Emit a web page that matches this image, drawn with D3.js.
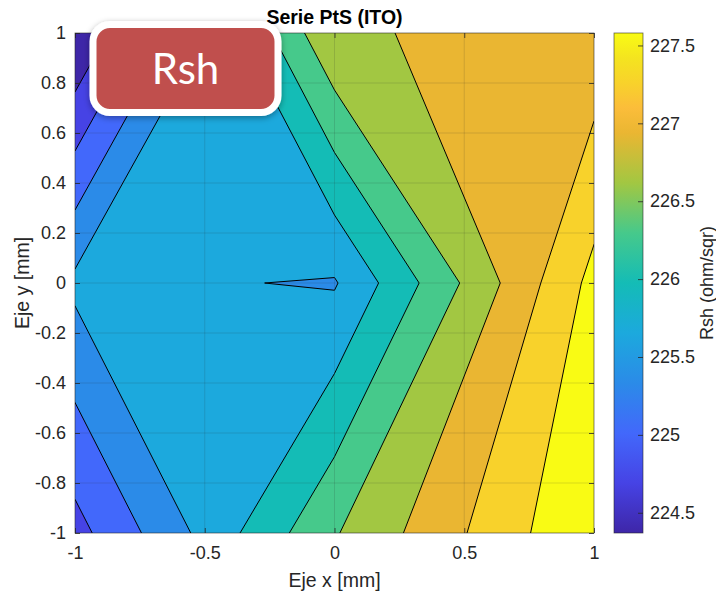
<!DOCTYPE html>
<html>
<head>
<meta charset="utf-8">
<script src="https://cdn.jsdelivr.net/npm/d3@7"></script>
<style>
    body { margin: 0; background: #fff; }
    svg { display: block; font-family: "Liberation Sans", Arial, Helvetica, sans-serif; }
</style>
</head>
<body>
<svg id="chart" width="716" height="594"></svg>
<script>
// Measurement grid (mm)
const xGrid = [-1, 0, 1];
const yGrid = [1, 0, -1];

// Rsh (ohm/sqr), one array per row, top row first
const rshTop = [224.37, 226.91, 227.03];
const rshMid = [225.73, 225.626, 227.68];
const rshBot = [224.90, 226.59, 227.90];

// Contour levels
const levels = [224.37, 224.691, 225.012, 225.333, 225.654, 225.975, 226.296, 226.617, 226.938, 227.259, 227.58];

// Ticks
const xTicks = [-1, -0.5, 0, 0.5, 1];
const yTicks = [-1, -0.8, -0.6, -0.4, -0.2, 0, 0.2, 0.4, 0.6, 0.8, 1];
const cbTicks = [224.5, 225, 225.5, 226, 226.5, 227, 227.5];

// Parula colormap stops
const parulaT = [0, 0.1, 0.2, 0.3, 0.4, 0.5, 0.6, 0.7, 0.8, 0.85, 0.9, 0.95, 1];
const parulaHex = ['#3e26a8', '#4643e5', '#4268fb', '#2b8be8', '#1ca9dd', '#14bcb6', '#46c98b',
    '#a2c742', '#eab632', '#fbbd3a', '#f8d22b', '#f4e41f', '#f9fb14'];

const svg = d3.select('#chart');
const textColor = '#262626';

// Scales
const x = d3.scaleLinear().domain([-1, 1]).range([75, 594]);
const y = d3.scaleLinear().domain([-1, 1]).range([533, 33]);
const gx = d3.scaleLinear().domain([0.5, 2.5]).range([xGrid[0], xGrid[2]]);
const gy = d3.scaleLinear().domain([0.5, 2.5]).range([yGrid[0], yGrid[2]]);
const parula = d3.scaleLinear().domain(parulaT).range(parulaHex).interpolate(d3.interpolateRgb);
const cNorm = d3.scaleLinear().domain([levels[0], levels[levels.length - 1]]).range([0, 1]).clamp(true);
const color = v => parula(cNorm(v));

const defs = svg.append('defs');
defs.append('clipPath').attr('id', 'plot-clip')
    .append('rect')
    .attr('x', x(-1)).attr('y', y(1))
    .attr('width', x(1) - x(-1)).attr('height', y(-1) - y(1));

// Filled contours (painted from highest level down)
const values = [...rshTop, ...rshMid, ...rshBot].map(v => -v);
const contours = d3.contours().size([3, 3]);
const path = d3.geoPath(d3.geoTransform({
    point(px, py) { this.stream.point(x(gx(px)), y(gy(py))); }
}));

const plot = svg.append('g').attr('clip-path', 'url(#plot-clip)');
plot.append('rect')
    .attr('x', x(-1)).attr('y', y(1))
    .attr('width', x(1) - x(-1)).attr('height', y(-1) - y(1))
    .attr('fill', color(levels[levels.length - 1]));

for (let k = levels.length - 1; k >= 1; k--) {
    plot.append('path')
        .datum(contours.contour(values, -levels[k]))
        .attr('d', path)
        .attr('fill', color(levels[k - 1]))
        .attr('stroke', '#000')
        .attr('stroke-width', 1)
        .attr('stroke-linejoin', 'round');
}

// Grid
const grid = svg.append('g').attr('stroke', textColor).attr('stroke-opacity', 0.15).attr('stroke-width', 1);
grid.selectAll('.gx').data(xTicks.slice(1, -1)).enter().append('line')
    .attr('x1', d => x(d)).attr('x2', d => x(d)).attr('y1', y(1)).attr('y2', y(-1));
grid.selectAll('.gy').data(yTicks.slice(1, -1)).enter().append('line')
    .attr('y1', d => y(d)).attr('y2', d => y(d)).attr('x1', x(-1)).attr('x2', x(1));

// Axes
const fmt = d => String(d);
function styleAxis(g) {
    g.select('.domain').remove();
    g.selectAll('.tick line').attr('stroke', textColor).attr('stroke-width', 0.8);
    g.selectAll('.tick text').attr('fill', textColor).attr('font-size', 18)
        .attr('font-family', '"Liberation Sans", Arial, sans-serif');
}
svg.append('g').attr('transform', `translate(0,${y(-1)})`)
    .call(d3.axisBottom(x).tickValues(xTicks).tickFormat(fmt).tickSize(-5).tickPadding(13))
    .call(styleAxis);
svg.append('g').attr('transform', `translate(0,${y(1)})`)
    .call(d3.axisTop(x).tickValues(xTicks).tickFormat('').tickSize(-5))
    .call(styleAxis);
svg.append('g').attr('transform', `translate(${x(-1)},0)`)
    .call(d3.axisLeft(y).tickValues(yTicks).tickFormat(fmt).tickSize(-5).tickPadding(9))
    .call(styleAxis);
svg.append('g').attr('transform', `translate(${x(1)},0)`)
    .call(d3.axisRight(y).tickValues(yTicks).tickFormat('').tickSize(-5))
    .call(styleAxis);

svg.append('rect')
    .attr('x', x(-1)).attr('y', y(1))
    .attr('width', x(1) - x(-1)).attr('height', y(-1) - y(1))
    .attr('fill', 'none').attr('stroke', textColor).attr('stroke-opacity', 0.7).attr('stroke-width', 0.8);

// Titles
svg.append('text')
    .attr('x', (x(-1) + x(1)) / 2).attr('y', 24)
    .attr('text-anchor', 'middle').attr('font-weight', 'bold').attr('font-size', 19.5)
    .attr('fill', '#000')
    .text('Serie PtS (ITO)');
svg.append('text')
    .attr('x', (x(-1) + x(1)) / 2).attr('y', 587)
    .attr('text-anchor', 'middle').attr('font-size', 19.5).attr('fill', textColor)
    .text('Eje x [mm]');
svg.append('text')
    .attr('transform', `translate(29,${(y(-1) + y(1)) / 2}) rotate(-90)`)
    .attr('text-anchor', 'middle').attr('font-size', 19.5).attr('fill', textColor)
    .text('Eje y [mm]');

// Colorbar
const cbX = 614, cbW = 29;
const cbY = d3.scaleLinear().domain([levels[0], levels[levels.length - 1]]).range([533, 33]);
const grad = defs.append('linearGradient').attr('id', 'cb-grad')
    .attr('x1', 0).attr('y1', 1).attr('x2', 0).attr('y2', 0);
grad.selectAll('stop').data(parulaT).enter().append('stop')
    .attr('offset', d => d).attr('stop-color', (d, i) => parulaHex[i]);
svg.append('rect')
    .attr('x', cbX).attr('y', cbY.range()[1])
    .attr('width', cbW).attr('height', cbY.range()[0] - cbY.range()[1])
    .attr('fill', 'url(#cb-grad)');
svg.append('g').attr('transform', `translate(${cbX + cbW},0)`)
    .call(d3.axisLeft(cbY).tickValues(cbTicks).tickFormat('').tickSize(5))
    .call(styleAxis);
svg.append('g').attr('transform', `translate(${cbX + cbW},0)`)
    .call(d3.axisRight(cbY).tickValues(cbTicks).tickFormat(fmt).tickSize(0).tickPadding(7))
    .call(styleAxis);
svg.append('rect')
    .attr('x', cbX).attr('y', cbY.range()[1])
    .attr('width', cbW).attr('height', cbY.range()[0] - cbY.range()[1])
    .attr('fill', 'none').attr('stroke', textColor).attr('stroke-opacity', 0.7).attr('stroke-width', 0.8);
svg.append('text')
    .attr('transform', `translate(713,${(cbY.range()[0] + cbY.range()[1]) / 2}) rotate(-90)`)
    .attr('text-anchor', 'middle').attr('font-size', 18).attr('fill', textColor)
    .text('Rsh (ohm/sqr)');

// "Rsh" callout box
const shadow = defs.append('filter').attr('id', 'shadow')
    .attr('x', '-20%').attr('y', '-20%').attr('width', '140%').attr('height', '150%');
shadow.append('feDropShadow')
    .attr('dx', 0).attr('dy', 2).attr('stdDeviation', 3)
    .attr('flood-color', '#000').attr('flood-opacity', 0.35);
const badge = svg.append('g');
badge.append('rect')
    .attr('x', 93).attr('y', 24.5).attr('width', 185).attr('height', 88)
    .attr('rx', 17).attr('ry', 17)
    .attr('fill', '#c0504d').attr('stroke', '#fff').attr('stroke-width', 7)
    .attr('filter', 'url(#shadow)');
badge.append('text')
    .attr('x', 185.5).attr('y', 83.5)
    .attr('text-anchor', 'middle')
    .attr('font-family', 'Lato, "Open Sans", sans-serif')
    .attr('font-size', 42).attr('fill', '#fff')
    .text('Rsh');
</script>
</body>
</html>
